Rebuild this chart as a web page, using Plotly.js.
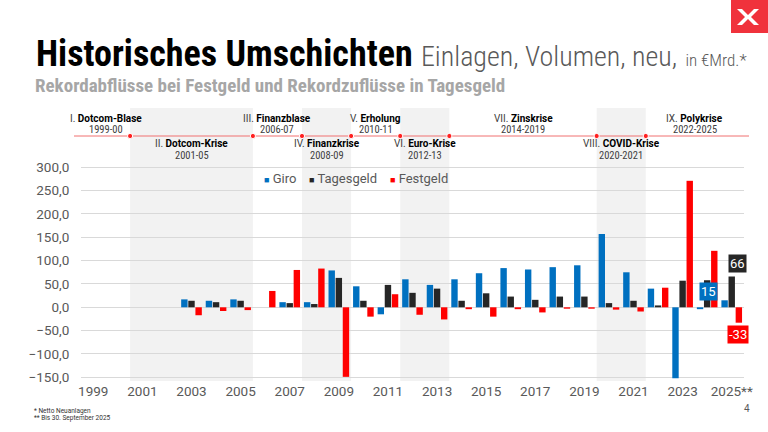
<!DOCTYPE html>
<html><head><meta charset="utf-8">
<script src="https://cdn.plot.ly/plotly-3.0.1.min.js"></script>
<style>html,body{margin:0;padding:0;background:#fff}#chart{width:768px;height:432px}</style>
</head><body><div id="chart"></div>
<script>
// ---------- data ----------
const years = ['1999','2000','2001','2002','2003','2004','2005','2006','2007','2008','2009','2010','2011','2012','2013','2014','2015','2016','2017','2018','2019','2020','2021','2022','2023','2024','2025'];
const giro      = [null,null,null,null, 17, 14, 17, null, 11, 11,  79, 45, -15, 60, 48, 60, 73, 84, 81, 86, 90, 157, 75, 40, -152, -4, 15];
const tagesgeld = [null,null,null,null, 14, 11, 14, null,  9,  7,  63, 14,  48, 31, 40, 14, 30, 23, 16, 23, 23,   9, 14,  4,   57, 58, 66];
const festgeld  = [null,null,null,null,-17, -8, -6,  35, 80, 83,-149,-20,  28,-16,-26, -4,-20, -4,-11, -3, -3,  -5, -9, 42,  271,121,-33];
const seriesNames  = ['Giro','Tagesgeld','Festgeld'];
const seriesColors = ['#0070c0','#262626','#ff0000'];
const xTickVals = ['1999','2001','2003','2005','2007','2009','2011','2013','2015','2017','2019','2021','2023','2025'];
const xTickText = ['1999','2001','2003','2005','2007','2009','2011','2013','2015','2017','2019','2021','2023','2025**'];
const yTickVals = [-150,-100,-50,0,50,100,150,200,250,300];
const phaseNums   = ['I.','II.','III.','IV.','V.','VI.','VII.','VIII.','IX.'];
const phaseNames  = ['Dotcom-Blase','Dotcom-Krise','Finanzblase','Finanzkrise','Erholung','Euro-Krise','Zinskrise','COVID-Krise','Polykrise'];
const phaseStart  = [1999,2001,2006,2008,2010,2012,2014,2020,2022];
const phaseEnd    = [2000,2005,2007,2009,2011,2013,2019,2021,2025];
const phaseLabels = ['1999-00','2001-05','2006-07','2008-09','2010-11','2012-13','2014-2019','2020-2021','2022-2025'];

const COND = 'Roboto Condensed, Roboto, sans-serif';
const F = 'Roboto, sans-serif';

// ---------- geometry helpers ----------
const W=768,H=432,ML=81,MR=24,MT=108,MB=51;
const PW=W-ML-MR, PH=H-MT-MB;
const px = x => (x-ML)/PW;
const py = y => 1-(y-MT)/PH;
const yr = v => years.indexOf(String(v));

const traces = seriesNames.map((n,i)=>({
  type:'bar', name:n, x:years, y:[giro,tagesgeld,festgeld][i],
  marker:{color:seriesColors[i], line:{width:0}}, showlegend:false, hoverinfo:'skip'
}));

const shapes = [];
const annotations = [];
// shaded bands for even phases
phaseNames.forEach((n,i)=>{
  if(i%2===1){
    shapes.push({type:'rect',layer:'below',xref:'x',yref:'paper',x0:yr(phaseStart[i])-0.5,x1:yr(phaseEnd[i])+0.5,y0:0,y1:1,fillcolor:'#f2f2f2',line:{width:0}});
  }
});
// timeline
const TL = 367;
shapes.push({type:'line',xref:'paper',yref:'paper',x0:px(74),x1:px(749),y0:py(136),y1:py(136),line:{color:'#f07070',width:1}});
phaseStart.slice(1).forEach(s=>{
  shapes.push({type:'circle',xref:'x',yref:'y',xsizemode:'pixel',ysizemode:'pixel',xanchor:yr(s)-0.5,yanchor:TL,x0:-2.6,x1:2.6,y0:-2.6,y1:2.6,fillcolor:'#ff2020',line:{color:'#ffffff',width:1}});
});
phaseNames.forEach((n,i)=>{
  const cx=(yr(phaseStart[i])+yr(phaseEnd[i]))/2;
  const up = i%2===0;
  annotations.push({xref:'x',yref:'y',x:cx,y:up?405:350,showarrow:false,
    text:'<span style="color:#404040">'+phaseNums[i]+'</span> <b>'+n+'</b>',font:{family:F,size:10,color:'#000'}});
  annotations.push({xref:'x',yref:'y',x:cx,y:up?382:326,showarrow:false,
    text:phaseLabels[i],font:{family:COND,size:10.5,color:'#404040'}});
});
// legend
const legX=[262,307,388];
seriesNames.forEach((n,i)=>{
  annotations.push({xref:'paper',yref:'paper',x:px(legX[i]),y:py(178),xanchor:'left',yanchor:'middle',showarrow:false,
    text:'<span style="color:'+seriesColors[i]+';font-size:9px">■</span> '+n,font:{family:F,size:13,color:'#595959'}});
});
// value labels 2025
const last=years.length-1;
[[giro,-23,9],[tagesgeld,6,13.5],[festgeld,6.5,-12]].forEach((d,i)=>{
  annotations.push({xref:'x',yref:'y',x:last,y:d[0][last],xshift:d[1],yshift:d[2],showarrow:false,
    text:String(d[0][last]),bgcolor:seriesColors[i],borderpad:1,font:{family:F,size:13,color:'#fff'}});
});
// title + subtitle
annotations.push({xref:'paper',yref:'paper',x:px(34),y:py(54),xanchor:'left',yanchor:'middle',showarrow:false,
  text:'<b>Historisches Umschichten</b> <span style="font-weight:300;color:#595959;font-size:28px">Einlagen, Volumen, neu,</span> <span style="font-weight:300;color:#595959;font-size:17px">in €Mrd.*</span>',
  font:{family:COND,size:36,color:'#000'}});
annotations.push({xref:'paper',yref:'paper',x:px(33),y:py(85),xanchor:'left',yanchor:'middle',showarrow:false,
  text:'<b>Rekordabflüsse bei Festgeld und Rekordzuflüsse in Tagesgeld</b>',font:{family:COND,size:19,color:'#a6a6a6'}});
// footnotes
annotations.push({xref:'paper',yref:'paper',x:px(32),y:py(410.5),xanchor:'left',yanchor:'middle',showarrow:false,text:'* Netto Neuanlagen',font:{family:F,size:6.5,color:'#333'}});
annotations.push({xref:'paper',yref:'paper',x:px(32),y:py(417.5),xanchor:'left',yanchor:'middle',showarrow:false,text:'** Bis 30. September 2025',font:{family:F,size:6.5,color:'#333'}});
annotations.push({xref:'paper',yref:'paper',x:px(746.5),y:py(408),xanchor:'center',yanchor:'middle',showarrow:false,text:'4',font:{family:F,size:10,color:'#595959'}});
// logo
shapes.push({type:'rect',xref:'paper',yref:'paper',x0:px(731),x1:px(769),y0:py(0),y1:py(33),fillcolor:'#f0323c',line:{width:0}});
const lp=[[737,9],[742,9],[748,15],[754,9],[759,9],[751,17],[759,25],[754,25],[748,19],[742,25],[737,25],[745,17]];
shapes.push({type:'path',xref:'paper',yref:'paper',path:'M'+lp.map(p=>px(p[0])+','+py(p[1])).join('L')+'Z',fillcolor:'#fff',line:{width:0}});

const layout = {
  width:W,height:H,margin:{l:ML,r:MR,t:MT,b:MB,pad:0},
  paper_bgcolor:'#fff',plot_bgcolor:'rgba(0,0,0,0)',
  barmode:'group',bargap:0.13,bargroupgap:0.1,
  separators:',.',
  font:{family:F,color:'#595959'},
  xaxis:{type:'category',range:[-0.5,26.5],tickvals:xTickVals,ticktext:xTickText,showgrid:false,zeroline:false,
    ticks:'',tickfont:{family:F,size:13.5,color:'#595959'},fixedrange:true},
  yaxis:{range:[-157.9,427],tickvals:yTickVals,tickformat:'.1f',showgrid:true,gridcolor:'#d9d9d9',gridwidth:1,
    zeroline:true,zerolinecolor:'#d9d9d9',zerolinewidth:1,ticks:'outside',ticklen:8,tickcolor:'rgba(0,0,0,0)',
    tickfont:{family:F,size:13.5,color:'#595959'},fixedrange:true},
  shapes:shapes,annotations:annotations,showlegend:false
};
Plotly.newPlot('chart',traces,layout,{staticPlot:true,displayModeBar:false});
</script></body></html>
